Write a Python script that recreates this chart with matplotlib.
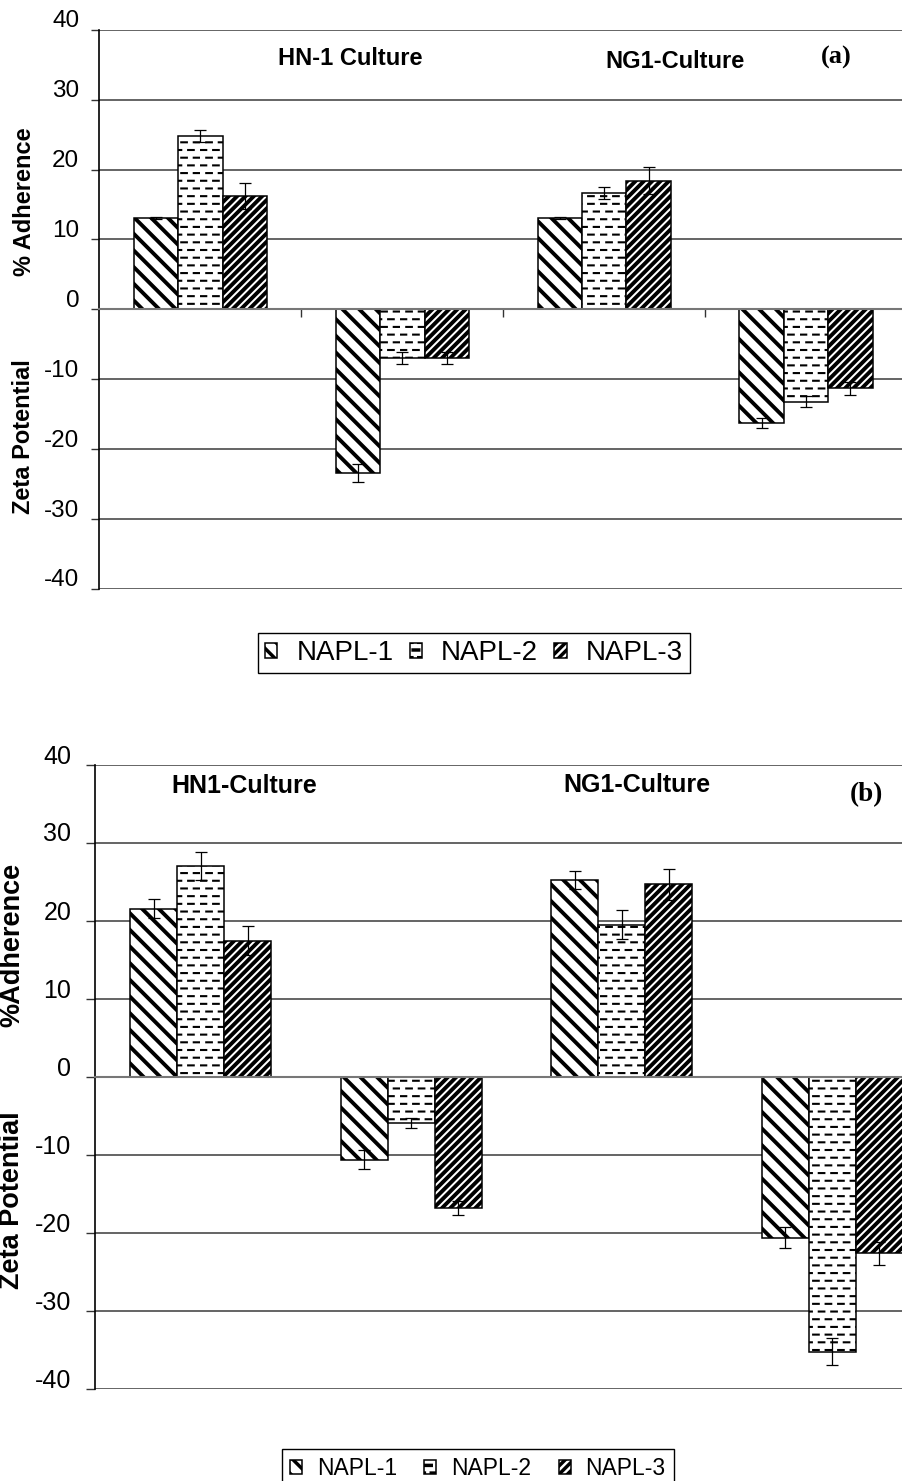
import numpy as np
import matplotlib
matplotlib.use("Agg")
import matplotlib.pyplot as plt
from matplotlib import hatch as mhatch
from matplotlib.path import Path
from matplotlib.transforms import ScaledTranslation

# ---------------- data ----------------
categories = ["HN adherence", "HN zeta", "NG1 adherence", "NG1 zeta"]
series = ["NAPL-1", "NAPL-2", "NAPL-3"]
yticks = [-40, -30, -20, -10, 0, 10, 20, 30, 40]

a_napl1 = [13.1, -23.4, 13.1, -16.2]
a_napl1_err = [0.15, 1.3, 0.15, 0.7]
a_napl2 = [24.8, -7.0, 16.7, -13.2]
a_napl2_err = [0.8, 0.85, 0.85, 0.8]
a_napl3 = [16.2, -7.0, 18.4, -11.3]
a_napl3_err = [1.9, 0.85, 1.9, 0.95]

b_napl1 = [21.6, -10.6, 25.3, -20.6]
b_napl1_err = [1.2, 1.2, 1.15, 1.35]
b_napl2 = [27.05, -5.9, 19.5, -35.2]
b_napl2_err = [1.85, 0.7, 1.85, 1.75]
b_napl3 = [17.5, -16.75, 24.7, -22.6]
b_napl3_err = [1.85, 0.9, 2.0, 1.5]

a_labels = ["HN-1 Culture", "NG1-Culture", "(a)"]
b_labels = ["HN1-Culture", "NG1-Culture", "(b)"]


# ---------------- custom dashed horizontal hatch ----------------
class DashedHorizontalHatch(mhatch.HatchPatternBase):
    def __init__(self, hatch, density):
        n = hatch.count('-') + hatch.count('+')
        self.num_rows = 13 * n
        self.num_dashes = 8
        self.num_vertices = self.num_rows * self.num_dashes * 2

    def set_vertices_and_codes(self, vertices, codes):
        step = 1.0 / self.num_dashes
        dash = 0.45 * step
        k = 0
        for r in range(self.num_rows):
            y = (r + 0.5) / self.num_rows
            off = 0.05 * step if r % 2 == 0 else 0.5 * step
            for d in range(self.num_dashes):
                x0 = d * step + off
                vertices[k] = (x0, y)
                vertices[k + 1] = (x0 + dash, y)
                codes[k] = Path.MOVETO
                codes[k + 1] = Path.LINETO
                k += 2


mhatch._hatch_types[mhatch._hatch_types.index(mhatch.HorizontalHatch)] = DashedHorizontalHatch

plt.rcParams['font.family'] = ['Liberation Sans', 'DejaVu Sans']
plt.rcParams['hatch.linewidth'] = 2.5

W, H = 903, 1481
fig = plt.figure(figsize=(W / 100, H / 100), dpi=100)

hatches = ['\\\\', '-', '////']
hatch_lw = [2.8, 1.5, 2.8]


def fx(px):
    return px / W


def fy(py):
    return 1 - py / H


def make_panel(rect, vals, errs, bar_w, tick_size, tick_len, tick_pad,
               label_shift, show_xticks):
    ax = fig.add_axes(rect)
    x = np.arange(len(categories))
    bars_all = []
    for i, (v, e) in enumerate(zip(vals, errs)):
        bars = ax.bar(x + (i - 1) * bar_w, v, bar_w, yerr=e,
                      facecolor='white', edgecolor='black', linewidth=1.1,
                      hatch=hatches[i], label=series[i], zorder=2,
                      error_kw=dict(ecolor='black', elinewidth=0.9,
                                    capsize=4.2, capthick=0.9, zorder=3))
        for p in bars.patches:
            if hasattr(p, 'set_hatch_linewidth'):
                p.set_hatch_linewidth(hatch_lw[i])
        bars_all.append(bars)
    ax.set_xlim(-0.5, len(categories) - 0.5)
    ax.set_ylim(-40, 40)
    ax.set_yticks(yticks)
    ax.set_yticklabels([str(t) for t in yticks])
    ax.grid(axis='y', color='#4a4a4a', linewidth=1.2)
    ax.set_axisbelow(True)
    for s in ['top', 'right']:
        ax.spines[s].set_visible(False)
    ax.spines['left'].set_color('black')
    ax.spines['left'].set_linewidth(1.2)
    ax.spines['bottom'].set_position(('data', 0))
    ax.spines['bottom'].set_color('#777777')
    ax.spines['bottom'].set_linewidth(1.5)
    ax.tick_params(axis='y', labelsize=tick_size, length=tick_len,
                   width=1.0, pad=tick_pad, color='#333333')
    if show_xticks:
        ax.set_xticks([0.5, 1.5, 2.5])
        ax.set_xticklabels(['', '', ''])
        ax.tick_params(axis='x', length=6, width=1.0, color='#333333')
    else:
        ax.set_xticks([])
    off = ScaledTranslation(0, label_shift / 100, fig.dpi_scale_trans)
    for lab in ax.get_yticklabels():
        lab.set_transform(lab.get_transform() + off)
    return ax, bars_all


# ---------------- panel (a) ----------------
axA, barsA = make_panel([fx(99.5), fy(589), fx(907 - 99.5), (589 - 29.7) / H],
                        [a_napl1, a_napl2, a_napl3],
                        [a_napl1_err, a_napl2_err, a_napl3_err],
                        0.22, 17.5, 5.5, 9, 11, True)

fig.text(fx(350), fy(65), a_labels[0], ha='center', va='baseline',
         fontsize=17, fontweight='bold')
fig.text(fx(675), fy(68), a_labels[1], ha='center', va='baseline',
         fontsize=17, fontweight='bold')
fig.text(fx(836), fy(64), a_labels[2], ha='center', va='baseline',
         fontsize=19, fontweight='bold', family=['Liberation Serif', 'DejaVu Serif'])
fig.text(fx(25), fy(202), "% Adherence", rotation=90, ha='center', va='center',
         fontsize=17, fontweight='bold')
fig.text(fx(24), fy(437), "Zeta Potential", rotation=90, ha='center', va='center',
         fontsize=17, fontweight='bold')

fig.legend(handles=barsA, labels=series, loc='upper left',
           bbox_to_anchor=(fx(258), fy(633)), bbox_transform=fig.transFigure,
           borderaxespad=0, ncol=3, fontsize=20, frameon=True, fancybox=False,
           edgecolor='black', framealpha=1, handlelength=0.45, handleheight=0.45,
           handletextpad=0.68, columnspacing=0.58, borderpad=0.25)

# ---------------- panel (b) ----------------
axB, barsB = make_panel([fx(95.5), fy(1389), fx(937.5 - 95.5), (1389 - 765) / H],
                        [b_napl1, b_napl2, b_napl3],
                        [b_napl1_err, b_napl2_err, b_napl3_err],
                        0.223, 18, 6.5, 11, 11, False)

fig.text(fx(244), fy(793), b_labels[0], ha='center', va='baseline',
         fontsize=18, fontweight='bold')
fig.text(fx(637), fy(792), b_labels[1], ha='center', va='baseline',
         fontsize=18, fontweight='bold')
fig.text(fx(866), fy(801), b_labels[2], ha='center', va='baseline',
         fontsize=19.5, fontweight='bold', family=['Liberation Serif', 'DejaVu Serif'])
fig.text(fx(12), fy(945), "%Adherence", rotation=90, ha='center', va='center',
         fontsize=19.5, fontweight='bold')
fig.text(fx(12), fy(1200), "Zeta Potential", rotation=90, ha='center', va='center',
         fontsize=19.5, fontweight='bold')

fig.legend(handles=barsB, labels=series, loc='upper left',
           bbox_to_anchor=(fx(282), fy(1449)), bbox_transform=fig.transFigure,
           borderaxespad=0, ncol=3, fontsize=16.5, frameon=True, fancybox=False,
           edgecolor='black', framealpha=1, handlelength=0.52, handleheight=0.52,
           handletextpad=0.65, columnspacing=1.2, borderpad=0.35)

fig.savefig("out.png", dpi=100, facecolor='white')
